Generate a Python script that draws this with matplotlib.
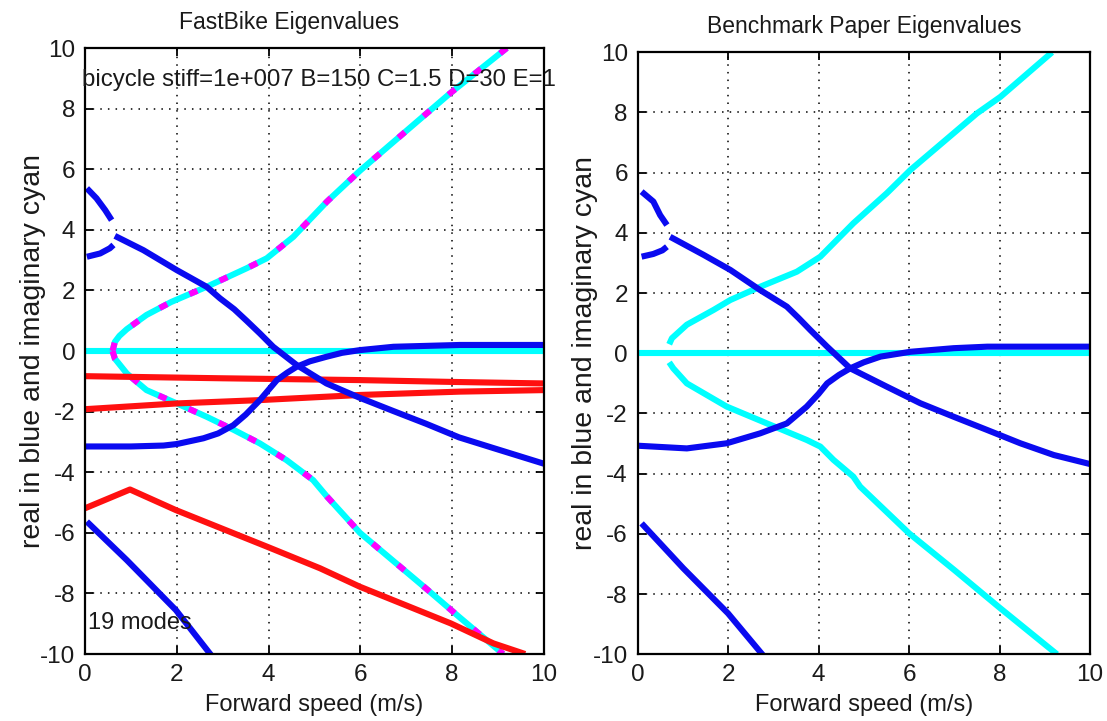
import matplotlib
matplotlib.use('Agg')
import matplotlib.pyplot as plt

plt.rcParams['font.family'] = ['Liberation Sans', 'DejaVu Sans']
plt.rcParams['axes.unicode_minus'] = False

# ---- FastBike (left) ----
fb_blue_top_v = [0.04, 0.25, 0.44, 0.58]
fb_blue_top = [5.37, 5.04, 4.65, 4.32]
fb_blue_low_v = [0.04, 0.33, 0.54, 0.62]
fb_blue_low = [3.11, 3.22, 3.39, 3.5]
fb_weave_v = [0.65, 1.27, 2.0, 2.65, 2.94, 3.25, 3.52, 3.81, 4.1, 4.61, 5.26, 5.98, 6.7, 7.43, 8.15, 8.87, 10.0]
fb_weave = [3.8, 3.33, 2.67, 2.12, 1.74, 1.38, 1.0, 0.58, 0.14, -0.46, -1.07, -1.54, -1.97, -2.4, -2.85, -3.19, -3.72]
fb_capsize_v = [0.0, 1.0, 1.71, 2.0, 2.58, 2.9, 3.23, 3.5, 3.81, 4.0, 4.18, 4.4, 4.61, 4.9, 5.26, 5.6, 5.99, 6.72, 8.17, 10.0]
fb_capsize = [-3.15, -3.15, -3.12, -3.07, -2.88, -2.72, -2.45, -2.1, -1.62, -1.28, -0.96, -0.72, -0.52, -0.34, -0.19, -0.06, 0.03, 0.14, 0.2, 0.2]
fb_castor_v = [0.04, 0.91, 1.98, 2.78]
fb_castor = [-5.63, -6.9, -8.55, -10.1]

fb_imag_zero_v = [0.0, 10.0]
fb_imag_zero = [0.0, 0.0]
fb_imag_up_v = [0.6, 0.65, 0.75, 0.91, 1.34, 1.88, 2.65, 3.52, 3.96, 4.54, 5.27, 5.99, 7.95, 9.19]
fb_imag_up = [0.0, 0.3, 0.5, 0.72, 1.19, 1.62, 2.12, 2.73, 3.06, 3.77, 4.93, 5.95, 8.5, 10.0]
fb_imag_dn_v = [0.6, 0.65, 0.91, 1.34, 2.0, 2.65, 3.25, 3.81, 4.39, 4.97, 5.27, 5.99, 7.44, 8.17, 9.11]
fb_imag_dn = [0.0, -0.25, -0.74, -1.29, -1.73, -2.17, -2.61, -3.05, -3.6, -4.26, -4.8, -6.0, -7.85, -8.8, -10.0]

fb_red1_v = [0.0, 3.0, 6.0, 8.0, 10.0]
fb_red1 = [-0.83, -0.9, -0.96, -1.02, -1.07]
fb_red2_v = [0.0, 2.0, 3.81, 6.0, 8.17, 10.0]
fb_red2 = [-1.92, -1.73, -1.62, -1.45, -1.34, -1.29]
fb_red3_v = [0.0, 0.98, 1.98, 3.97, 5.12, 5.99, 7.97, 8.9, 9.59]
fb_red3 = [-5.19, -4.57, -5.25, -6.46, -7.17, -7.78, -8.99, -9.65, -10.0]

# ---- Benchmark paper (right) ----
bm_blue_top_v = [0.09, 0.35, 0.5, 0.65]
bm_blue_top = [5.37, 5.04, 4.59, 4.26]
bm_blue_low_v = [0.09, 0.35, 0.55, 0.65]
bm_blue_low = [3.21, 3.3, 3.42, 3.54]
bm_weave_v = [0.72, 1.46, 2.05, 2.71, 3.3, 3.56, 3.82, 4.19, 4.7, 5.51, 6.25, 6.99, 7.73, 8.46, 9.2, 10.0]
bm_weave = [3.87, 3.27, 2.77, 2.1, 1.55, 1.17, 0.77, 0.22, -0.5, -1.11, -1.66, -2.11, -2.55, -2.99, -3.38, -3.68]
bm_capsize_v = [0.0, 1.09, 1.97, 2.71, 3.3, 3.74, 4.0, 4.19, 4.45, 4.7, 5.0, 5.37, 6.03, 6.99, 7.73, 10.0]
bm_capsize = [-3.07, -3.16, -2.99, -2.66, -2.33, -1.77, -1.35, -1.0, -0.72, -0.5, -0.3, -0.11, 0.05, 0.17, 0.22, 0.22]
bm_castor_v = [0.09, 1.01, 2.0, 2.8]
bm_castor = [-5.65, -7.14, -8.64, -10.08]

bm_imag_zero_v = [0.0, 10.0]
bm_imag_zero = [0.0, 0.0]
bm_imag_up_v = [0.7, 0.76, 1.09, 1.68, 2.05, 2.71, 3.52, 4.04, 4.77, 5.51, 6.03, 7.5, 8.02, 9.16]
bm_imag_up = [0.3, 0.5, 0.95, 1.44, 1.77, 2.21, 2.71, 3.21, 4.32, 5.32, 6.09, 7.97, 8.52, 10.0]
bm_imag_dn_v = [0.7, 0.79, 1.09, 1.97, 2.86, 3.74, 4.04, 4.33, 4.77, 4.92, 6.0, 7.0, 8.0, 9.27]
bm_imag_dn = [-0.3, -0.5, -1.0, -1.77, -2.33, -2.88, -3.1, -3.54, -4.1, -4.43, -5.98, -7.2, -8.45, -10.0]

BLUE = '#0a0af0'
CYAN = '#00ffff'
MAG = '#ff00ff'
RED = '#ff1010'
TXT = '#1a1a1a'
FS = 16
LW = 4.4

fig = plt.figure(figsize=(11.07, 7.21), dpi=100)
ax1 = fig.add_axes([0.0768, 0.0929, 0.4146, 0.8405])
ax2 = fig.add_axes([0.5759, 0.0925, 0.4088, 0.835])

def style(ax, title, tx=0.5):
    ax.set_xlim(0, 10)
    ax.set_ylim(-10, 10)
    ax.set_xticks(range(0, 11, 2))
    ax.set_yticks(range(-10, 11, 2))
    ax.grid(True, color='black', linestyle=(0, (1, 4)), linewidth=1.1)
    ax.tick_params(direction='in', top=True, right=True, length=6, width=1.3,
                   labelsize=17.5, labelcolor=TXT, pad=7)
    for s in ax.spines.values():
        s.set_linewidth(1.6)
    ax.set_title(title, fontsize=16.5, color=TXT, x=tx, pad=14)
    ax.set_xlabel('Forward speed (m/s)', fontsize=17, color=TXT, labelpad=6)
    ax.set_ylabel('real in blue and imaginary cyan', fontsize=20.5, color=TXT, labelpad=-4)

def line(ax, v, y, c, **kw):
    ax.plot(v, y, color=c, linewidth=LW, solid_capstyle='butt', **kw)

# left panel
line(ax1, fb_imag_zero_v, fb_imag_zero, CYAN)
for v, y in [(fb_imag_up_v, fb_imag_up), (fb_imag_dn_v, fb_imag_dn)]:
    line(ax1, v, y, CYAN)
    ax1.plot(v, y, color=MAG, linewidth=LW, dashes=(1.4, 4.0))
for v, y in [(fb_red1_v, fb_red1), (fb_red2_v, fb_red2), (fb_red3_v, fb_red3)]:
    line(ax1, v, y, RED)
for v, y in [(fb_blue_top_v, fb_blue_top), (fb_blue_low_v, fb_blue_low),
             (fb_weave_v, fb_weave), (fb_capsize_v, fb_capsize), (fb_castor_v, fb_castor)]:
    line(ax1, v, y, BLUE)
style(ax1, 'FastBike Eigenvalues', tx=0.445)
ax1.text(-0.07, 8.94, 'bicycle stiff=1e+007 B=150 C=1.5 D=30 E=1', fontsize=17.3,
         color=TXT, va='center', ha='left')
ax1.text(0.07, -8.98, '19 modes', fontsize=17, color=TXT, va='center', ha='left')

# right panel
for v, y in [(bm_imag_zero_v, bm_imag_zero), (bm_imag_up_v, bm_imag_up), (bm_imag_dn_v, bm_imag_dn)]:
    line(ax2, v, y, CYAN)
for v, y in [(bm_blue_top_v, bm_blue_top), (bm_blue_low_v, bm_blue_low),
             (bm_weave_v, bm_weave), (bm_capsize_v, bm_capsize), (bm_castor_v, bm_castor)]:
    line(ax2, v, y, BLUE)
style(ax2, 'Benchmark Paper Eigenvalues')

fig.savefig('out.png', dpi=100)
